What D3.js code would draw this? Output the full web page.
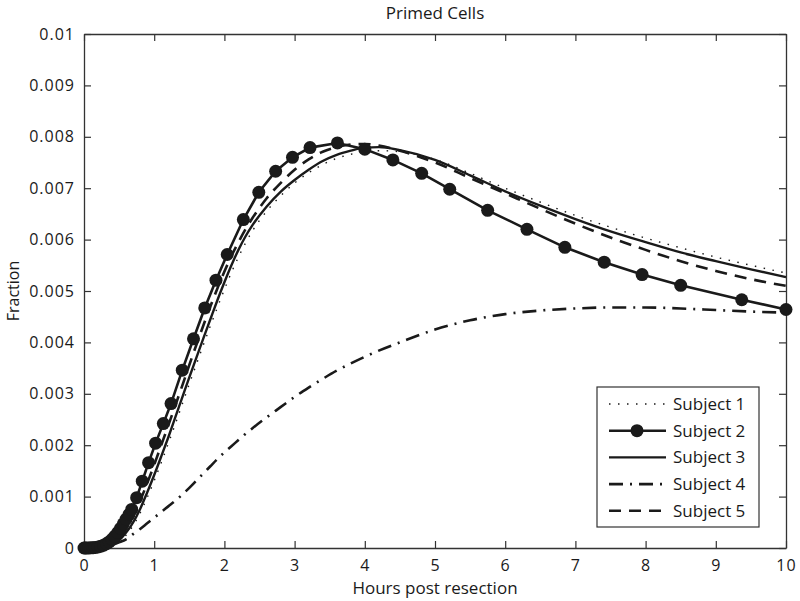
<!DOCTYPE html>
<html>
<head>
<meta charset="utf-8">
<script src="https://cdn.jsdelivr.net/npm/d3@7"></script>
<style>
  body { margin: 0; background: #fff; }
  text { font-family: "Open Sans", sans-serif; fill: #1a1a1a; }
</style>
</head>
<body>
<svg id="chart" width="800" height="601"></svg>
<script>
// values are in thousandths (x 1e-3) of the fraction
var hoursGrid = [0, 0.2, 0.4, 0.5, 0.6, 0.7, 0.8, 0.9, 1.0, 1.1, 1.2, 1.3, 1.4, 1.5, 1.6, 1.7, 1.8, 1.9, 2.0, 2.1, 2.2, 2.3, 2.4, 2.6, 2.8, 3.0, 3.2, 3.4, 3.6, 3.8, 4.0, 4.2, 4.5, 5.0, 5.5, 6.0, 6.5, 7.0, 7.5, 8.0, 8.5, 9.0, 9.5, 10];

var subject1 = [0, 0.004, 0.05, 0.12, 0.25, 0.44, 0.68, 0.98, 1.31, 1.66, 2.03, 2.41, 2.8, 3.19, 3.57, 3.95, 4.32, 4.68, 5.03, 5.36, 5.66, 5.93, 6.17, 6.55, 6.85, 7.1, 7.3, 7.46, 7.58, 7.66, 7.71, 7.73, 7.71, 7.56, 7.29, 7.0, 6.73, 6.47, 6.24, 6.03, 5.84, 5.66, 5.5, 5.35];
var subject3 = [0, 0.005, 0.06, 0.15, 0.3, 0.5, 0.76, 1.08, 1.42, 1.78, 2.15, 2.54, 2.93, 3.32, 3.7, 4.08, 4.45, 4.82, 5.17, 5.5, 5.8, 6.06, 6.28, 6.64, 6.93, 7.16, 7.36, 7.53, 7.65, 7.73, 7.79, 7.8, 7.74, 7.55, 7.25, 6.94, 6.66, 6.4, 6.16, 5.95, 5.75, 5.58, 5.42, 5.27];
var subject4 = [0, 0.01, 0.06, 0.11, 0.17, 0.27, 0.37, 0.48, 0.59, 0.7, 0.81, 0.92, 1.04, 1.17, 1.31, 1.45, 1.59, 1.73, 1.86, 1.98, 2.1, 2.22, 2.33, 2.54, 2.74, 2.94, 3.12, 3.29, 3.45, 3.59, 3.72, 3.84, 4.0, 4.25, 4.43, 4.55, 4.62, 4.66, 4.68, 4.68, 4.66, 4.63, 4.6, 4.58];
var subject5 = [0, 0.006, 0.09, 0.2, 0.38, 0.62, 0.92, 1.26, 1.62, 2.0, 2.38, 2.77, 3.16, 3.56, 3.95, 4.33, 4.7, 5.05, 5.38, 5.68, 5.95, 6.2, 6.42, 6.8, 7.1, 7.36, 7.56, 7.71, 7.8, 7.85, 7.86, 7.83, 7.73, 7.5, 7.2, 6.9, 6.6, 6.31, 6.04, 5.8, 5.58, 5.39, 5.23, 5.1];

// subject 2 has its own (solver) time steps, drawn with markers
var subject2Hours = [0, 0.02, 0.04, 0.07, 0.1, 0.13, 0.16, 0.2, 0.24, 0.28, 0.32, 0.36, 0.4, 0.44, 0.48, 0.52, 0.56, 0.6, 0.64, 0.68, 0.75, 0.83, 0.92, 1.02, 1.13, 1.24, 1.40, 1.56, 1.72, 1.88, 2.04, 2.27, 2.49, 2.73, 2.97, 3.22, 3.61, 4.00, 4.40, 4.81, 5.21, 5.75, 6.31, 6.85, 7.41, 7.95, 8.50, 9.37, 10];
var subject2 = [0, 0, 0, 0.001, 0.003, 0.006, 0.011, 0.02, 0.035, 0.055, 0.085, 0.12, 0.17, 0.23, 0.30, 0.38, 0.47, 0.56, 0.65, 0.75, 0.98, 1.30, 1.66, 2.04, 2.42, 2.81, 3.46, 4.07, 4.67, 5.21, 5.71, 6.39, 6.92, 7.33, 7.60, 7.79, 7.88, 7.76, 7.55, 7.29, 6.98, 6.57, 6.20, 5.85, 5.56, 5.32, 5.11, 4.83, 4.64];

var xTicks = [0, 1, 2, 3, 4, 5, 6, 7, 8, 9, 10];
var yTicks = [0, 0.001, 0.002, 0.003, 0.004, 0.005, 0.006, 0.007, 0.008, 0.009, 0.01];
var legendLabels = ["Subject 1", "Subject 2", "Subject 3", "Subject 4", "Subject 5"];

var margin = {top: 34, right: 14, bottom: 53, left: 84};
var width = 800 - margin.left - margin.right,
    height = 601 - margin.top - margin.bottom;

var svg = d3.select("#chart");
var g = svg.append("g").attr("transform", "translate(" + margin.left + "," + margin.top + ")");

var x = d3.scaleLinear().domain([0, 10]).range([0, width]);
var y = d3.scaleLinear().domain([0, 0.01]).range([height, 0]);

var ink = "#1a1a1a";
var fmt = d3.format("~g");

// axes, MATLAB style: box with inward ticks on all sides
var xAxis = g.append("g").attr("transform", "translate(0," + height + ")")
  .call(d3.axisBottom(x).tickValues(xTicks).tickSizeInner(-7).tickSizeOuter(0).tickPadding(12).tickFormat(fmt));
var yAxis = g.append("g")
  .call(d3.axisLeft(y).tickValues(yTicks).tickSizeInner(-7).tickSizeOuter(0).tickPadding(10).tickFormat(fmt));
g.append("g")
  .call(d3.axisTop(x).tickValues(xTicks).tickSizeInner(-7).tickSizeOuter(0).tickFormat(""));
g.append("g").attr("transform", "translate(" + width + ",0)")
  .call(d3.axisRight(y).tickValues(yTicks).tickSizeInner(-7).tickSizeOuter(0).tickFormat(""));

g.selectAll(".domain").attr("stroke", "#333").attr("stroke-width", 1.3);
g.selectAll(".tick line").attr("stroke", "#333").attr("stroke-width", 1.2);
g.selectAll(".tick text").attr("font-size", "16px").attr("font-family", "Open Sans")
  .attr("fill", ink).attr("letter-spacing", "1px");
yAxis.selectAll(".tick text").attr("dx", "1px");

// labels
svg.append("text").attr("x", margin.left + width / 2).attr("y", 19)
  .attr("text-anchor", "middle").attr("font-size", "17px").text("Primed Cells");
svg.append("text").attr("x", margin.left + width / 2).attr("y", 594)
  .attr("text-anchor", "middle").attr("font-size", "17px").text("Hours post resection");
svg.append("text").attr("transform", "translate(19," + (margin.top + height / 2) + ") rotate(-90)")
  .attr("text-anchor", "middle").attr("font-size", "16px").text("Fraction");

// series styles
var styles = [
  {dash: "1.5,7.5", width: 1.4},
  {dash: null, width: 2.6},
  {dash: null, width: 2.4},
  {dash: "14,7,2,7", width: 2.6},
  {dash: "12,8", width: 2.6}
];

var line = d3.line()
  .x(function(d) { return x(d[0]); })
  .y(function(d) { return y(d[1] / 1000); })
  .curve(d3.curveMonotoneX);

var gridSeries = [subject1, null, subject3, subject4, subject5];

gridSeries.forEach(function(vals, i) {
  if (!vals) return;
  g.append("path")
    .datum(hoursGrid.map(function(h, k) { return [h, vals[k]]; }))
    .attr("fill", "none")
    .attr("stroke", ink)
    .attr("stroke-width", styles[i].width)
    .attr("stroke-dasharray", styles[i].dash)
    .attr("d", line);
});

var s2 = subject2Hours.map(function(h, k) { return [h, subject2[k]]; });
g.append("path")
  .datum(s2)
  .attr("fill", "none")
  .attr("stroke", ink)
  .attr("stroke-width", styles[1].width)
  .attr("d", d3.line().x(function(d) { return x(d[0]); }).y(function(d) { return y(d[1] / 1000); }));
g.selectAll("circle.s2")
  .data(s2)
  .enter().append("circle")
  .attr("class", "s2")
  .attr("cx", function(d) { return x(d[0]); })
  .attr("cy", function(d) { return y(d[1] / 1000); })
  .attr("r", 6.5)
  .attr("fill", ink);

// legend
var lg = svg.append("g").attr("transform", "translate(597,387)");
lg.append("rect").attr("width", 162).attr("height", 140)
  .attr("fill", "#fff").attr("stroke", "#333").attr("stroke-width", 1.2);
legendLabels.forEach(function(name, i) {
  var yy = 17 + i * 26.7;
  lg.append("line").attr("x1", 12).attr("x2", 69).attr("y1", yy).attr("y2", yy)
    .attr("stroke", ink).attr("stroke-width", styles[i].width)
    .attr("stroke-dasharray", styles[i].dash);
  if (i === 1) {
    lg.append("circle").attr("cx", 40).attr("cy", yy).attr("r", 6.5).attr("fill", ink);
  }
  lg.append("text").attr("x", 76).attr("y", yy + 6).attr("font-size", "17px").text(name);
});
</script>
</body>
</html>
